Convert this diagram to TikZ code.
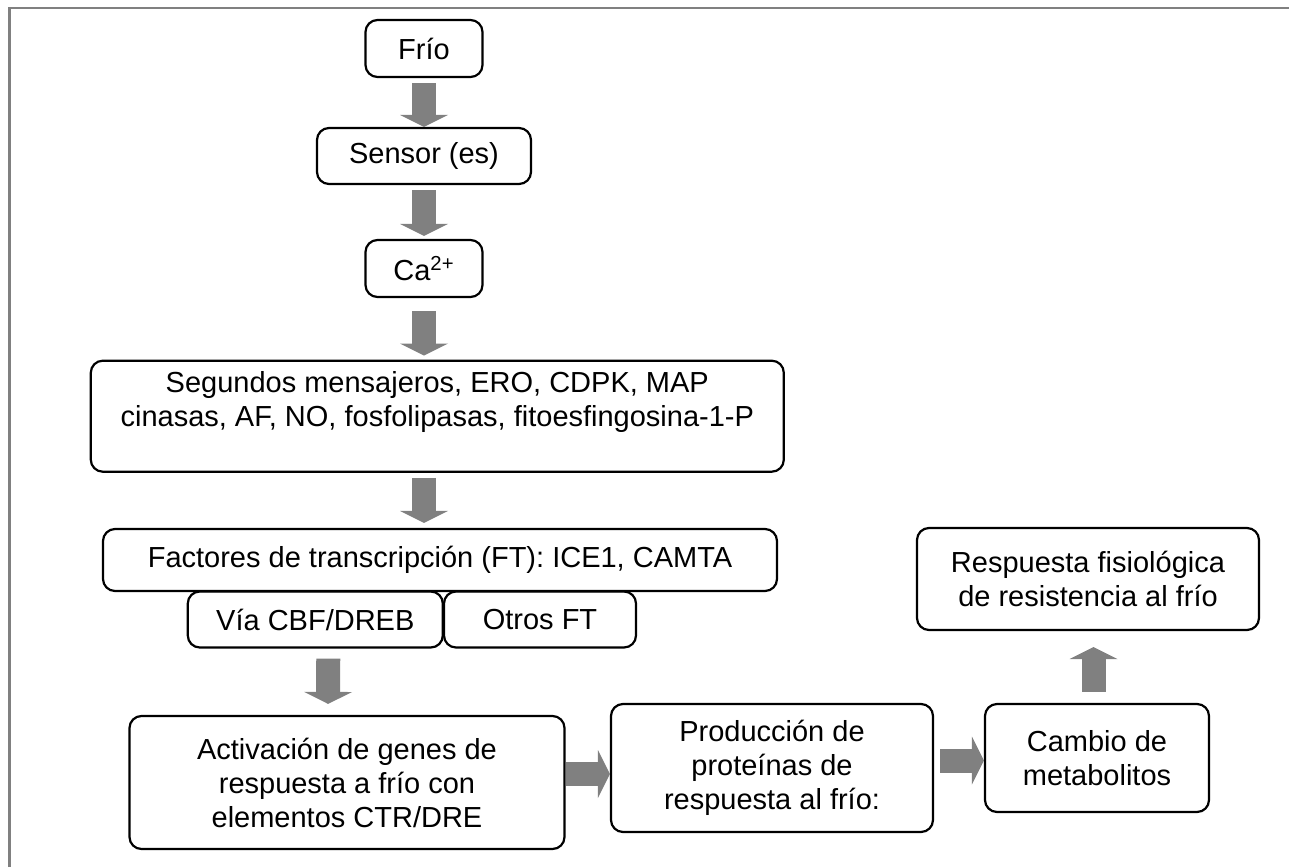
\documentclass[tikz,border=0pt]{standalone}
\usepackage{fontspec}
\setmainfont{Liberation Sans}
\usepackage{tikz}
\usetikzlibrary{arrows.meta}
\definecolor{framegray}{RGB}{128,128,128}
\definecolor{arrowgray}{RGB}{128,128,128}

\begin{document}
\begin{tikzpicture}[x=0.5pt, y=-0.5pt,
  flowbox/.style={draw, line width=1.1pt, rounded corners=6pt, align=center, inner sep=0pt, font=\fontsize{14.5}{17}\selectfont},
  blockarrow/.style={draw=arrowgray, line width=12pt, -{Triangle[length=6pt, width=24pt, line width=0pt, fill=arrowgray]}}]
  \useasboundingbox (0,0) rectangle (1289,867);
  \draw[framegray, line width=1.2pt] (9.3,867) -- (9.3,7.8) -- (1289,7.8);
  % central column
  \node[flowbox, minimum width=58.5pt, minimum height=28.5pt] (frio) at (424,48.5) {Frío};
  \node[flowbox, minimum width=107pt, minimum height=28pt] (sensor) at (424,156) {Sensor (es)};
  \node[flowbox, minimum width=58.5pt, minimum height=28.5pt] (calcio) at (424,268.5) {Ca\textsuperscript{2+}};
  \node[flowbox, minimum width=346.5pt, minimum height=55.5pt] (segundos) at (437.3,416.2) {Segundos mensajeros, ERO, CDPK, MAP\\cinasas, AF, NO, fosfolipasas, fitoesfingosina-1-P\\\mbox{}};
  \node[flowbox, minimum width=337pt, minimum height=31pt] (factores) at (440,560) {Factores de transcripción (FT): ICE1, CAMTA};
  \node[flowbox, minimum width=127.5pt, minimum height=28pt] (via) at (315.3,619.5) {Vía CBF/DREB};
  \node[flowbox, minimum width=96pt, minimum height=28pt] (otros) at (540,619.5) {Otros FT};
  % bottom row
  \node[flowbox, minimum width=217.5pt, minimum height=66.5pt] (activacion) at (347,782.5) {Activación de genes de\\respuesta a frío con\\elementos CTR/DRE};
  \node[flowbox, minimum width=161pt, minimum height=64pt] (produccion) at (772,768) {Producción de\\proteínas de\\respuesta al frío:};
  \node[flowbox, minimum width=112pt, minimum height=54pt] (cambio) at (1097,758) {Cambio de\\metabolitos};
  \node[flowbox, minimum width=171pt, minimum height=51pt] (respuesta) at (1088,579) {Respuesta fisiológica\\de resistencia al frío};

  \draw[blockarrow, shorten <=2.5pt] (frio) -- (sensor);
  \draw[blockarrow, shorten <=2.5pt, shorten >=1.5pt] (sensor) -- (calcio);
  \draw[blockarrow, shorten <=6.5pt, shorten >=2pt] (calcio.south) -- (calcio.south |- segundos.north);
  \draw[blockarrow, shorten <=2.5pt, shorten >=2.5pt] (calcio.south |- segundos.south) -- (calcio.south |- factores.north);
  \draw[blockarrow, shorten <=5pt, shorten >=5.5pt] ([xshift=6.5pt]via.south) -- ([xshift=-9.5pt]activacion.north);
  \draw[blockarrow] ([yshift=4.25pt]activacion.east) -- ([yshift=-3pt]produccion.west);
  \draw[blockarrow, shorten <=3pt] ([yshift=3.75pt]produccion.east) -- ([yshift=-1.25pt]cambio.west);
  \draw[blockarrow, shorten <=5.5pt, shorten >=8pt] ([xshift=-1.75pt]cambio.north) -- ([xshift=2.75pt]respuesta.south);
\end{tikzpicture}
\end{document}
